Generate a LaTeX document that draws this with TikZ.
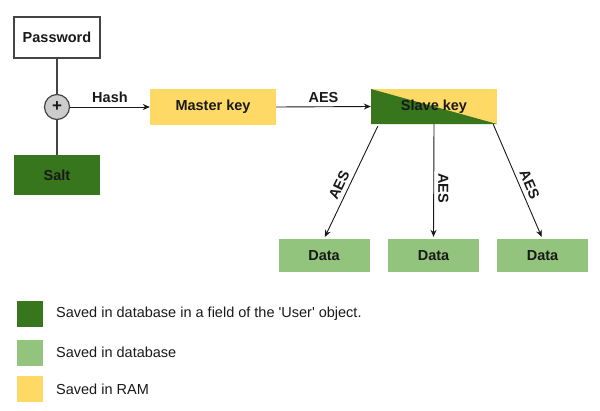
\documentclass[tikz,border=0pt]{standalone}
\usepackage{fontspec}
\setmainfont{Liberation Sans}
\usetikzlibrary{arrows.meta}
\definecolor{dkgreen}{HTML}{38761D}
\definecolor{ltgreen}{HTML}{93C47D}
\definecolor{keyyellow}{HTML}{FFD966}
\definecolor{circgrey}{HTML}{CCCCCC}
\definecolor{linegrey}{HTML}{444444}
\begin{document}
\begin{tikzpicture}[x=1pt,y=-1pt,
  every node/.style={font=\fontsize{14.5}{17}\selectfont\bfseries, text=black!90, inner sep=0pt},
  box/.style={rectangle, minimum width=#1, minimum height=36pt},
  pwbox/.style={box=86pt, minimum height=41pt, draw=linegrey, line width=1.2pt, fill=white},
  saltbox/.style={box=86pt, minimum height=40pt, fill=dkgreen},
  keybox/.style={box=126pt, fill=keyyellow},
  databox/.style={box=91pt, minimum height=33pt, fill=ltgreen},
  legsq/.style={rectangle, minimum width=26pt, minimum height=26pt},
  legtext/.style={font=\fontsize{14.5}{17}\selectfont, anchor=west},
  conn/.style={draw=linegrey, line width=1.3pt},
  arr/.style={draw=black!90, line width=0.9pt, -{Stealth[length=7pt,width=6pt]}},
  lbl/.style={above=4pt}
]
\useasboundingbox (0,0) rectangle (600,410);

\node[pwbox] (pw) at (57,37.5) {Password};
\node[circle, draw=linegrey, line width=1.2pt, fill=circgrey, minimum size=25pt, font=\fontsize{17}{17}\selectfont\bfseries] (plus) at (57,107) {+};
\node[saltbox] (salt) at (57,175) {Salt};
\node[keybox] (mk) at (213,107) {Master key};
\node[keybox, minimum height=35pt,
  path picture={\fill[dkgreen] (path picture bounding box.north west) -- (path picture bounding box.south west) -- (path picture bounding box.south east) -- cycle;}] (sk) at (434,106.5) {Slave key};

\node[databox] (d1) at (324,255.5) {Data};
\node[databox] (d2) at (433.5,255.5) {Data};
\node[databox] (d3) at (542.5,255.5) {Data};

\draw[conn] (pw.south) -- (plus.north);
\draw[conn] (plus.south) -- (salt.north);
\draw[arr] (plus.east) -- node[lbl] {Hash} (mk.west);
\draw[arr] (mk.east) -- node[lbl] {AES} (sk.west);

\draw[arr, shorten >=2pt] ([xshift=7pt,yshift=-2pt]sk.south west) -- node[pos=0.56, sloped, lbl] {AES} (d1.north);
\draw[arr, shorten >=2pt] (sk.south) -- node[pos=0.56, sloped, allow upside down, lbl] {AES} (d2.north);
\draw[arr, shorten >=2pt] ([xshift=-4pt]sk.south east) -- node[pos=0.56, sloped, lbl] {AES} (d3.north);

\node[legsq, fill=dkgreen] (l1) at (30,314) {};
\node[legsq, fill=ltgreen] (l2) at (30,352.5) {};
\node[legsq, fill=keyyellow] (l3) at (30,389) {};
\node[legtext] (t1) at (56,314) {Saved in database in a field of the \textquotesingle User\textquotesingle{} object.};
\node[legtext] (t2) at (56,352.5) {Saved in database};
\node[legtext] (t3) at (56,389) {Saved in RAM};
\end{tikzpicture}
\end{document}
